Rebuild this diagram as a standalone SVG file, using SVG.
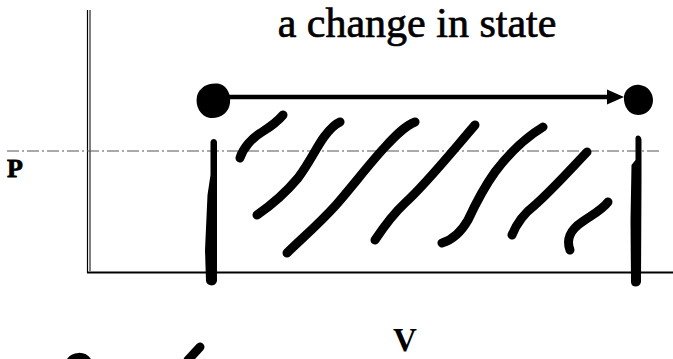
<svg xmlns="http://www.w3.org/2000/svg" width="673" height="359" viewBox="0 0 673 359">
<style>
.lbl{font-family:"Liberation Serif","Times New Roman",serif;fill:#000}
.hatch{fill:none;stroke:#000;stroke-width:9;stroke-linecap:round;stroke-linejoin:round}
.axis{stroke:#000;fill:none}
</style>
<rect width="673" height="359" fill="#fff"/>
<g id="axes">
<line class="axis" x1="87.5" y1="10" x2="87.5" y2="273" stroke-width="1.2"/>
<line class="axis" x1="90" y1="10" x2="90" y2="271" stroke-width="1"/>
<line class="axis" x1="87" y1="272.5" x2="673" y2="272.5" stroke-width="2"/>
<line x1="7" y1="151" x2="662" y2="151" stroke="#555" stroke-width="1" stroke-dasharray="12 3 2 3"/>
</g>
<g id="title"><text class="lbl" x="417" y="37" font-size="42" text-anchor="middle" stroke="#000" stroke-width="0.7">a change in state</text></g>
<g id="label-P"><text class="lbl" x="7" y="177" font-size="26" font-weight="bold" stroke="#000" stroke-width="0.8">P</text></g>
<g id="label-V"><text class="lbl" x="393" y="351" font-size="33" font-weight="bold">V</text></g>
<g id="state-1"><path d="M197,96 C200,86 210,82 220,84 C228,87 231,95 230,103 C229,113 220,119 210,118 C200,116 195,106 197,96 Z" fill="#000"/></g>
<g id="state-2"><path d="M624,96 C626,88 633,84 640,85 C648,86 653,93 653,100 C653,109 646,115 638,115 C629,115 623,106 624,96 Z" fill="#000"/></g>
<g id="connectors">
<line x1="228" y1="97" x2="610" y2="97" stroke="#000" stroke-width="4.5"/>
<path d="M607,89.5 L624,97 L607,104.5 Z" fill="#000"/>
</g>
<g id="verticals">
<path d="M210.5,142 C211,138 216.5,138 217,142 L217,200 L217,280 C217,287 207,287 206,281 L205,250 L207.5,195 L210.5,175 Z" fill="#000"/>
<path d="M635.5,138 C636,134 641.5,135 641.5,140 L641.5,180 L641,282 C640,288 631,288 631,282 L630.5,220 L631.5,165 L635.5,160 Z" fill="#000"/>
</g>
<g id="hatching">
<path class="hatch" d="M240,158 C243,148 252,138 262,132 C270,127 278,121 283,115"/>
<path class="hatch" d="M257,215 C270,206 283,196 298,178 C310,162 316,148 324,137 C330,129 335,124 340,122"/>
<path class="hatch" d="M287,253 C300,240 318,225 336,205 C355,183 370,163 385,147 C396,135 405,126 415,122"/>
<path class="hatch" d="M375,240 C383,228 392,215 405,203 C425,185 445,160 475,125"/>
<path class="hatch" d="M442,243 C452,240 460,234 468,220 C475,205 482,190 495,172 C510,152 525,138 543,127"/>
<path class="hatch" d="M512,235 C516,225 522,215 535,205 C552,190 570,170 587,152"/>
<path class="hatch" d="M570,250 C566,240 570,230 582,222 C592,215 602,210 608,202"/>
<path class="hatch" d="M200,347 L188,360"/>
<path class="hatch" d="M70,363 C73,356 84,355 88,363"/>
</g>
</svg>
